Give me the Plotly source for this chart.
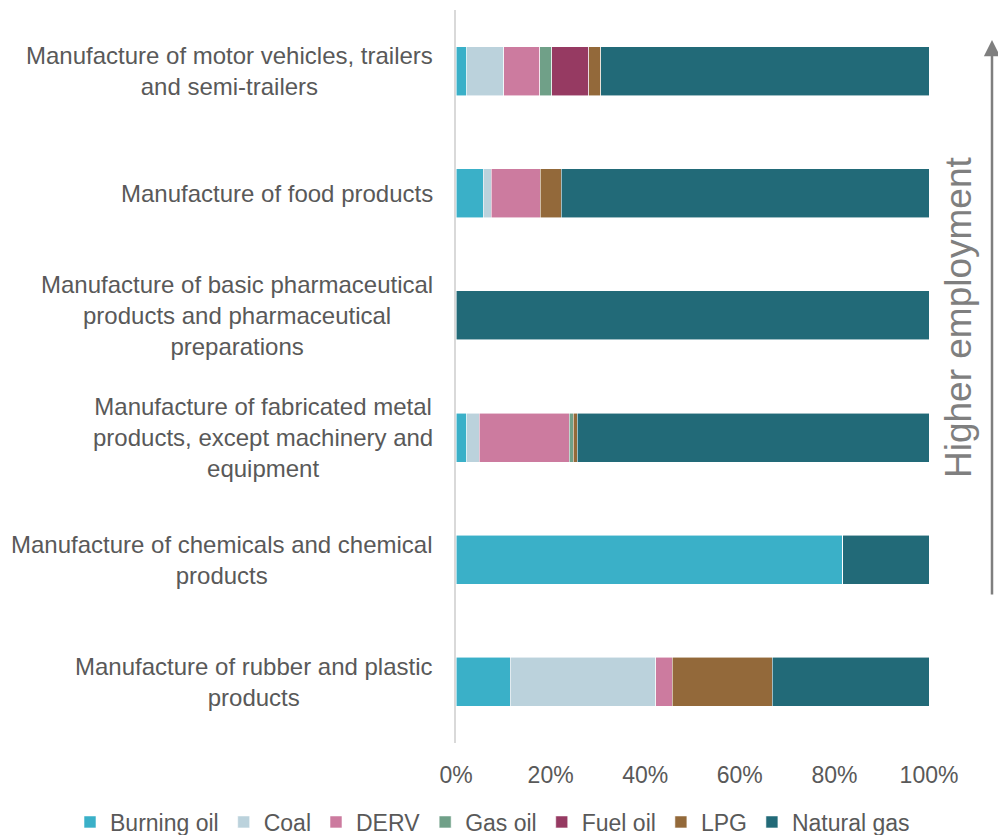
import plotly.graph_objects as go

categories = [
    "Manufacture of motor vehicles, trailers<br>and semi-trailers",
    "Manufacture of food products",
    "Manufacture of basic pharmaceutical<br>products and pharmaceutical<br>preparations",
    "Manufacture of fabricated metal<br>products, except machinery and<br>equipment",
    "Manufacture of chemicals and chemical<br>products",
    "Manufacture of rubber and plastic<br>products",
]

burning_oil = [2.25, 5.8, 0, 2.25, 81.8, 11.5]
coal = [7.8, 1.7, 0, 2.7, 0, 30.7]
derv = [7.7, 10.3, 0, 19.0, 0, 3.5]
gas_oil = [2.5, 0, 0, 0.8, 0, 0]
fuel_oil = [7.8, 0, 0, 0, 0, 0]
lpg = [2.6, 4.4, 0, 0.85, 0, 21.2]
natural_gas = [69.35, 77.8, 100, 74.4, 18.2, 33.1]

series = [
    ("Burning oil", burning_oil, "#3AB0C8"),
    ("Coal", coal, "#BBD2DC"),
    ("DERV", derv, "#CC7B9F"),
    ("Gas oil", gas_oil, "#70A088"),
    ("Fuel oil", fuel_oil, "#963A62"),
    ("LPG", lpg, "#93693A"),
    ("Natural gas", natural_gas, "#226A78"),
]

x_ticks = [0, 20, 40, 60, 80, 100]
x_tick_labels = ["0%", "20%", "40%", "60%", "80%", "100%"]

keys = [c.replace("<br>", " ") for c in categories]

FONT = "Liberation Sans, Arial, sans-serif"
TXT = "#595959"

fig = go.Figure()
for name, vals, color in series:
    fig.add_trace(go.Bar(
        name=name, y=keys, x=vals, orientation="h",
        marker=dict(color=color, line=dict(color="rgba(255,255,255,0.7)", width=0.8)),
    ))

annotations = []
for key, label in zip(keys, categories):
    annotations.append(dict(
        x=0, xref="paper", xanchor="right", xshift=-21,
        y=key, yref="y", yanchor="middle", align="center",
        text=label, showarrow=False,
        font=dict(family=FONT, size=24, color=TXT),
    ))

# arrow
annotations.append(dict(
    x=(992 - 456) / 473, xref="paper", y=(743 - 40) / 733, yref="paper",
    ax=0, ay=556, text="", showarrow=True,
    arrowcolor="#7f7f7f", arrowwidth=2.5, arrowhead=2, arrowsize=1.3, standoff=0,
))
annotations.append(dict(
    x=(958 - 456) / 473, xref="paper", y=(743 - 317) / 733, yref="paper",
    xanchor="center", yanchor="middle", textangle=-90,
    text="Higher employment", showarrow=False,
    font=dict(family=FONT, size=37, color="#7f7f7f"),
))

fig.update_layout(
    barmode="stack",
    bargap=0.6,
    width=998, height=835,
    margin=dict(l=456, r=69, t=10, b=92, autoexpand=False),
    paper_bgcolor="white", plot_bgcolor="white",
    font=dict(family=FONT, size=23, color=TXT),
    showlegend=True,
    legend=dict(
        orientation="h", xref="paper", yref="paper",
        x=(70 - 456) / 473, xanchor="left", y=(743 - 822) / 733, yanchor="middle",
        font=dict(family=FONT, size=23, color=TXT),
        traceorder="normal", itemwidth=30,
    ),
    annotations=annotations,
)
fig.update_xaxes(
    range=[0, 100], tickvals=x_ticks, ticktext=x_tick_labels,
    showgrid=False, zeroline=False, showline=False, ticks="",
    ticklabelstandoff=16,
    tickfont=dict(family=FONT, size=23, color=TXT),
)
fig.update_yaxes(
    categoryorder="array", categoryarray=keys, autorange="reversed",
    showticklabels=False, ticks="", showgrid=False, zeroline=False,
    showline=True, linecolor="#d9d9d9", linewidth=2,
)

fig.write_html("out.html")
